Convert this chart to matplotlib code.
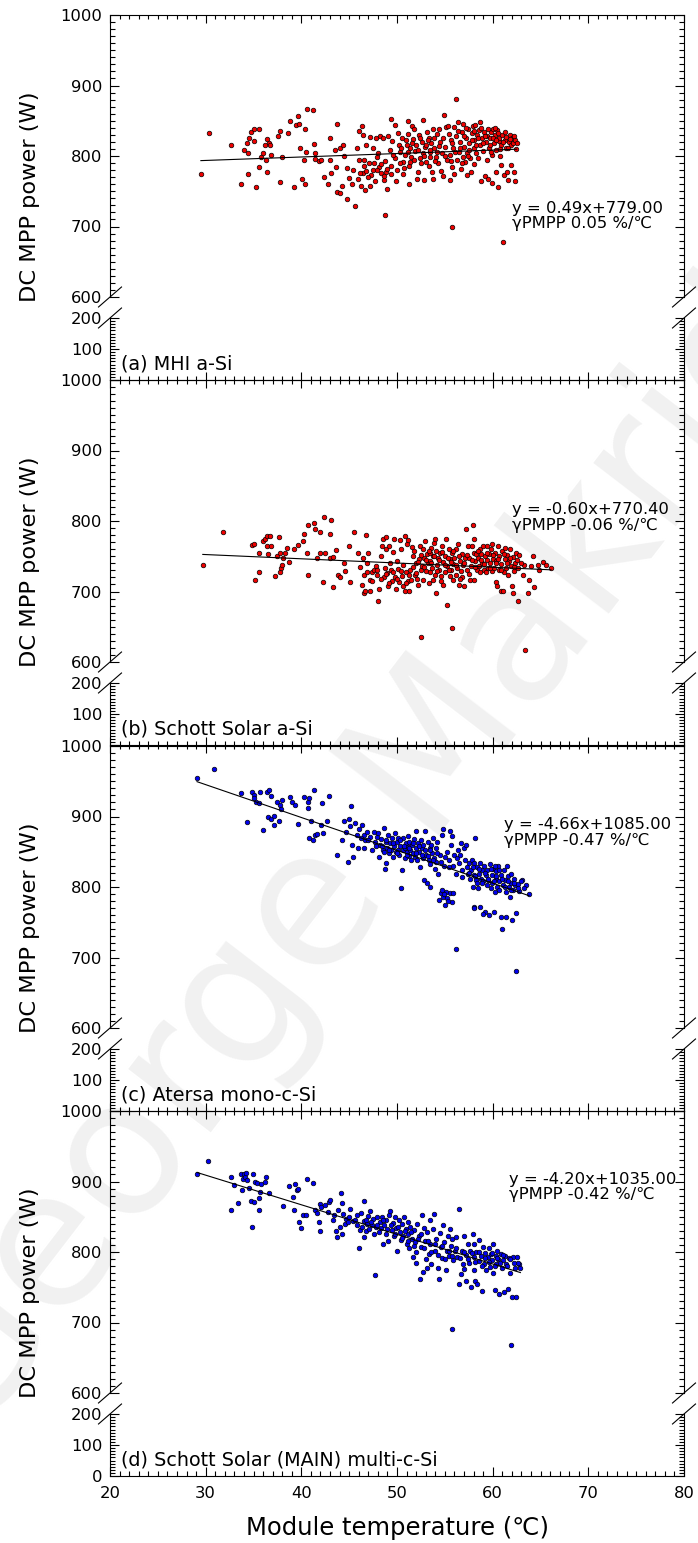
import numpy as np
import matplotlib
matplotlib.use('Agg')
import matplotlib.pyplot as plt
from matplotlib.lines import Line2D
from matplotlib.ticker import MultipleLocator

plt.rcParams['font.family'] = ['DejaVu Sans']

# (a) MHI a-Si
temp_a = [
    29.5, 30.4, 32.7, 33.7, 34.0, 34.3, 34.4, 34.4, 34.5, 34.7,
    35.1, 35.6, 35.0, 35.3, 35.6, 35.8, 36.0, 36.2, 36.4, 36.6,
    36.7, 36.3, 36.4, 36.8, 37.6, 37.8, 37.8, 38.0, 38.6, 38.8,
    39.2, 39.4, 39.6, 39.8, 39.9, 40.1, 40.4, 40.4, 40.6, 41.2,
    40.3, 40.5, 41.3, 41.4, 41.4, 41.8, 42.1, 42.4, 42.8, 43.0,
    43.0, 43.1, 43.6, 43.7, 43.5, 43.7, 44.0, 44.0, 44.4, 44.3,
    44.5, 44.8, 44.8, 45.0, 45.3, 45.4, 45.6, 45.8, 46.0, 46.0,
    46.3, 46.4, 46.4, 46.2, 46.6, 46.7, 46.8, 46.8, 47.1, 47.2,
    47.2, 47.3, 47.5, 47.5, 47.7, 47.8, 47.9, 48.0, 48.1, 48.2,
    48.3, 48.5, 48.7, 48.6, 48.7, 48.9, 49.0, 49.1, 49.3, 49.4,
    49.4, 49.5, 49.8, 49.8, 49.9, 50.0, 50.1, 50.2, 50.3, 50.5,
    50.6, 50.6, 50.8, 51.0, 51.2, 51.2, 51.3, 51.3, 51.4, 51.5,
    51.6, 51.7, 51.8, 51.9, 52.0, 52.1, 52.2, 52.3, 52.4, 52.5,
    52.6, 52.7, 52.7, 52.8, 52.9, 53.0, 53.1, 53.3, 53.4, 53.5,
    53.6, 53.7, 53.8, 53.8, 53.9, 54.1, 54.2, 54.3, 54.4, 54.5,
    54.6, 54.7, 54.8, 54.9, 55.0, 55.1, 55.2, 55.3, 55.5, 55.5,
    55.6, 55.7, 55.8, 55.9, 56.0, 56.0, 56.2, 56.2, 56.3, 56.4,
    56.5, 56.6, 56.7, 56.8, 56.9, 56.9, 57.0, 57.1, 57.2, 57.3,
    57.3, 57.4, 57.5, 57.6, 57.7, 57.8, 57.9, 58.0, 58.1, 58.1,
    58.2, 58.3, 58.4, 58.5, 58.6, 58.7, 58.7, 58.8, 58.9, 59.0,
    59.1, 59.2, 59.3, 59.4, 59.4, 59.5, 59.6, 59.7, 59.8, 59.9,
    59.9, 60.0, 60.1, 60.2, 60.3, 60.4, 60.5, 60.6, 60.7, 60.7,
    60.9, 60.9, 61.0, 61.1, 61.2, 61.3, 61.4, 61.4, 61.5, 61.6,
    61.7, 61.8, 61.9, 62.0, 62.1, 62.4, 62.3, 62.5, 62.2, 62.3,
    61.9,
    50.4, 50.9, 51.1, 51.6, 51.8, 52.2, 52.4, 52.8, 53.0, 53.2,
    53.5, 53.9, 54.0, 54.4, 54.8, 55.0, 55.4, 55.8, 56.1, 56.4,
    56.6, 57.0, 57.2, 57.5, 57.8, 58.0, 58.3, 58.5, 58.8, 59.0,
    59.2, 59.5, 59.7, 60.0, 60.2, 60.4, 60.6, 60.8, 61.1, 61.3,
    61.6, 61.8, 62.2, 47.6, 47.9, 48.3, 48.6, 49.0, 49.4, 46.6,
    47.0, 46.1, 45.9, 49.6, 50.3, 50.7, 51.4, 53.3, 54.2, 55.6,
    56.8, 57.4, 59.8, 60.8]
pmpp_a = [
    774, 832, 816, 760, 809, 819, 804, 775, 826, 834,
    838, 838, 821, 756, 785, 798, 804, 815, 824, 818,
    815, 794, 777, 802, 828, 835, 763, 798, 832, 850,
    756, 844, 857, 845, 812, 768, 760, 838, 867, 865,
    795, 806, 817, 804, 796, 793, 794, 770, 760, 825,
    794, 776, 785, 846, 808, 749, 747, 811, 815, 757,
    800, 783, 739, 769, 760, 780, 729, 812, 794, 835,
    842, 776, 830, 758, 786, 752, 779, 816, 790, 757,
    827, 773, 780, 812, 764, 825, 798, 804, 785, 829,
    776, 825, 717, 766, 793, 778, 753, 829, 808, 786,
    852, 821, 844, 797, 765, 780, 833, 816, 806, 826,
    792, 775, 802, 816, 849, 831, 786, 760, 811, 799,
    842, 824, 838, 807, 816, 768, 778, 830, 797, 790,
    820, 851, 804, 766, 813, 792, 834, 826, 806, 798,
    818, 778, 838, 768, 811, 799, 831, 790, 839, 820,
    779, 804, 772, 858, 813, 841, 794, 843, 801, 766,
    823, 699, 785, 811, 841, 775, 828, 881, 794, 848,
    806, 820, 782, 834, 799, 845, 813, 792, 826, 773,
    804, 839, 818, 797, 778, 832, 842, 811, 788, 823,
    844, 804, 830, 797, 837, 848, 816, 764, 825, 807,
    834, 772, 820, 794, 829, 768, 811, 825, 834, 761,
    801, 839, 818, 830, 809, 778, 837, 756, 821, 826,
    787, 816, 830, 678, 773, 823, 812, 827, 778, 766,
    820, 830, 816, 826, 818, 810, 823, 818, 777, 765,
    787,
    812, 822, 805, 818, 795, 809, 826, 800, 815, 822,
    808, 826, 793, 814, 826, 800, 831, 818, 806, 836,
    812, 828, 840, 808, 822, 836, 815, 826, 840, 818,
    828, 838, 816, 826, 840, 822, 832, 810, 820, 834,
    812, 824, 828, 790, 780, 788, 772, 782, 775, 794,
    770, 776, 768, 801, 790, 783, 791, 786, 805, 793,
    790, 800, 806, 800]

# (b) Schott Solar a-Si
temp_b = [
    29.7, 31.8, 34.8, 35.1, 35.2, 35.6, 35.6, 36.0, 36.2, 36.4,
    36.5, 36.4, 36.7, 36.8, 37.2, 37.5, 37.7, 37.8, 37.8, 37.9,
    38.0, 38.1, 38.3, 38.5, 38.7, 39.2, 39.7, 40.2, 40.3, 40.6,
    40.7, 40.7, 41.3, 41.4, 41.6, 41.9, 42.0, 42.3, 42.4, 42.5,
    43.0, 43.0, 43.1, 43.3, 43.3, 43.6, 43.8, 44.0, 44.5, 44.6,
    45.0, 45.1, 45.5, 45.9, 46.1, 46.3, 46.4, 46.5, 46.6, 46.7,
    46.8, 46.9, 47.0, 47.2, 47.2, 47.4, 47.6, 47.8, 47.9, 48.0,
    48.1, 48.3, 48.4, 48.5, 48.6, 48.7, 48.8, 48.9, 49.0, 49.1,
    49.2, 49.3, 49.4, 49.5, 49.6, 49.7, 49.8, 49.9, 50.0, 50.1,
    50.2, 50.3, 50.4, 50.5, 50.6, 50.6, 50.8, 50.8, 50.9, 51.0,
    51.1, 51.2, 51.3, 51.4, 51.5, 51.6, 51.7, 51.8, 51.9, 52.0,
    52.1, 52.2, 52.3, 52.4, 52.5, 52.6, 52.7, 52.7, 52.8, 52.9,
    53.0, 53.1, 53.2, 53.3, 53.4, 53.4, 53.5, 53.6, 53.7, 53.8,
    53.9, 54.0, 54.0, 54.1, 54.1, 54.2, 54.3, 54.4, 54.5, 54.6,
    54.7, 54.8, 54.8, 55.0, 55.0, 55.1, 55.2, 55.2, 55.4, 55.5,
    55.5, 55.6, 55.7, 55.8, 55.9, 55.9, 56.0, 56.2, 56.2, 56.3,
    56.4, 56.5, 56.6, 56.7, 56.8, 56.8, 56.9, 57.0, 57.1, 57.2,
    57.3, 57.4, 57.5, 57.6, 57.7, 57.8, 57.9, 58.0, 58.1, 58.1,
    58.2, 58.3, 58.4, 58.5, 58.6, 58.7, 58.7, 58.8, 58.9, 59.0,
    59.1, 59.2, 59.3, 59.4, 59.4, 59.5, 59.6, 59.7, 59.8, 59.9,
    59.9, 60.0, 60.1, 60.2, 60.3, 60.4, 60.5, 60.6, 60.7, 60.7,
    60.9, 60.9, 61.0, 61.1, 61.2, 61.3, 61.3, 61.4, 61.5, 61.6,
    61.7, 61.8, 61.9, 62.0, 62.1, 62.1, 62.2, 62.3, 62.4, 62.6,
    62.7, 52.5, 63.4, 65.3, 64.7, 64.2, 64.0, 64.3, 63.8, 63.7,
    63.2, 63.3, 62.8, 64.8, 65.6, 66.1,
    52.2, 52.5, 52.8, 53.0, 53.3, 53.6, 53.9, 54.2, 54.4, 54.7,
    55.0, 55.3, 55.6, 55.9, 56.2, 56.5, 57.0, 57.3, 57.8, 58.2,
    58.5, 58.8, 59.1, 59.4, 59.7, 60.0, 60.3, 60.6, 60.9, 61.2,
    61.5, 61.8, 62.2, 62.5, 63.0, 46.9, 47.4, 47.9, 48.3, 48.8,
    49.2, 49.6, 50.0, 50.4, 50.9, 51.3, 51.7, 52.0, 53.8, 54.6,
    55.4, 56.6, 57.5]
pmpp_b = [
    737, 785, 766, 768, 717, 728, 754, 771, 775, 779,
    753, 765, 779, 764, 722, 750, 777, 755, 728, 734,
    738, 747, 754, 761, 742, 760, 766, 771, 781, 755,
    723, 794, 797, 788, 747, 785, 754, 714, 806, 754,
    781, 748, 801, 749, 707, 759, 724, 721, 741, 729,
    765, 714, 785, 754, 735, 709, 748, 698, 724, 701,
    780, 741, 754, 717, 701, 727, 730, 736, 723, 687,
    703, 751, 764, 775, 721, 734, 760, 778, 726, 708,
    765, 741, 731, 715, 756, 774, 720, 704, 743, 732,
    713, 773, 760, 722, 737, 708, 701, 779, 727, 768,
    715, 773, 701, 731, 717, 763, 751, 757, 724, 740,
    718, 709, 746, 764, 730, 736, 760, 717, 748, 771,
    729, 753, 740, 712, 755, 727, 743, 761, 734, 750,
    769, 724, 774, 698, 757, 738, 748, 731, 754, 715,
    765, 742, 709, 727, 750, 775, 681, 736, 760, 722,
    746, 731, 754, 648, 739, 717, 748, 724, 760, 734,
    768, 709, 743, 729, 753, 721, 737, 708, 748, 788,
    731, 765, 748, 716, 736, 764, 794, 755, 775, 717,
    743, 753, 731, 748, 736, 760, 727, 753, 741, 764,
    731, 750, 727, 745, 765, 734, 753, 740, 760, 729,
    768, 746, 734, 755, 713, 743, 708, 764, 731, 750,
    701, 739, 757, 701, 728, 746, 762, 734, 752, 724,
    743, 760, 736, 708, 749, 698, 729, 741, 755, 734,
    687, 636, 617, 742, 738, 750, 736, 706, 717, 698,
    724, 738, 752, 730, 738, 733,
    742, 752, 735, 745, 758, 740, 751, 729, 744, 756,
    738, 748, 742, 757, 738, 750, 740, 752, 745, 735,
    757, 745, 739, 755, 733, 752, 740, 746, 730, 753,
    740, 748, 735, 745, 740, 727, 715, 730, 718, 725,
    712, 728, 718, 729, 712, 724, 735, 726, 716, 722,
    730, 718, 725]

# (c) Atersa mono-c-Si
temp_c = [
    29.1, 30.9, 33.7, 34.3, 34.8, 35.0, 35.1, 35.3, 35.6, 35.7,
    36.0, 36.4, 36.6, 36.8, 36.5, 36.8, 37.1, 37.1, 37.5, 37.7,
    37.8, 37.9, 38.0, 38.8, 39.0, 39.3, 39.6, 40.3, 40.7, 40.8,
    40.7, 40.8, 41.0, 41.2, 41.3, 41.4, 41.6, 42.1, 42.2, 42.3,
    42.7, 42.9, 43.7, 44.3, 44.5, 44.7, 44.9, 45.0, 45.1, 45.2,
    45.3, 45.4, 45.6, 45.8, 45.9, 46.0, 46.3, 46.5, 46.5, 46.7,
    46.9, 47.2, 47.4, 47.6, 47.7, 47.9, 48.0, 48.1, 48.2, 48.3,
    48.5, 48.6, 48.6, 48.7, 48.8, 48.9, 49.0, 49.1, 49.2, 49.3,
    49.4, 49.5, 49.6, 49.7, 49.8, 49.9, 50.0, 50.1, 50.1, 50.2,
    50.3, 50.4, 50.5, 50.6, 50.6, 50.8, 50.8, 50.9, 51.0, 51.1,
    51.2, 51.3, 51.3, 51.4, 51.5, 51.6, 51.7, 51.8, 51.9, 52.0,
    52.0, 52.1, 52.2, 52.3, 52.4, 52.5, 52.6, 52.7, 52.7, 52.8,
    52.9, 53.0, 53.1, 53.2, 53.3, 53.4, 53.4, 53.5, 53.6, 53.7,
    53.8, 53.9, 54.0, 54.1, 54.1, 54.2, 54.3, 54.4, 54.5, 54.6,
    54.7, 54.8, 54.8, 54.9, 55.0, 55.1, 55.2, 55.2, 55.4, 55.5,
    55.5, 55.6, 55.7, 55.8, 55.9, 55.9, 56.0, 56.2, 56.2, 56.3,
    56.4, 56.5, 56.6, 56.7, 56.8, 56.8, 57.0, 57.1, 57.2, 57.3,
    57.4, 57.5, 57.6, 57.7, 57.8, 57.9, 58.0, 58.1, 58.1, 58.2,
    58.3, 58.4, 58.5, 58.6, 58.7, 58.7, 58.8, 58.9, 59.0, 59.1,
    59.2, 59.3, 59.4, 59.4, 59.5, 59.6, 59.7, 59.8, 59.9, 59.9,
    60.0, 60.1, 60.2, 60.3, 60.4, 60.5, 60.6, 60.7, 60.7, 60.9,
    60.9, 61.0, 61.1, 61.2, 61.3, 61.4, 61.4, 61.5, 61.6, 61.7,
    61.8, 61.9, 61.9, 62.0, 62.1, 62.2, 62.3, 62.4, 63.8, 63.5,
    63.1, 63.3, 62.8, 62.6, 62.4, 63.0,
    48.4, 48.9, 49.2, 49.6, 50.0, 50.3, 50.7, 51.0, 51.3, 51.7,
    52.0, 52.3, 52.6, 52.9, 53.2, 53.5, 53.8, 54.2, 54.6, 55.0,
    55.4, 57.5, 57.9, 58.2, 58.6, 58.9, 59.2, 59.5, 59.8, 60.1,
    60.4, 60.7, 61.0, 61.3, 61.6, 61.9, 62.2, 62.6, 58.4, 60.2,
    54.9, 55.3, 54.7, 58.0, 59.0, 47.0, 47.8, 46.2]
pmpp_c = [
    954, 967, 934, 892, 935, 931, 926, 920, 919, 935,
    881, 935, 937, 929, 899, 896, 901, 888, 921, 893,
    916, 910, 923, 927, 920, 916, 889, 928, 921, 926,
    912, 870, 894, 867, 938, 874, 875, 888, 919, 877,
    894, 929, 845, 867, 893, 878, 835, 897, 887, 915,
    860, 843, 891, 874, 855, 882, 888, 855, 874, 867,
    878, 871, 852, 878, 864, 871, 876, 843, 860, 868,
    852, 850, 883, 826, 864, 834, 856, 874, 848, 862,
    853, 870, 843, 858, 877, 849, 864, 853, 869, 845,
    858, 798, 824, 852, 869, 856, 841, 863, 850, 872,
    857, 844, 864, 852, 838, 860, 848, 868, 843, 880,
    855, 838, 862, 849, 829, 867, 855, 841, 860, 810,
    880, 845, 805, 864, 838, 855, 800, 833, 860, 848,
    869, 841, 826, 855, 836, 864, 819, 782, 845, 791,
    874, 786, 882, 830, 775, 793, 850, 784, 838, 791,
    880, 860, 779, 872, 830, 791, 845, 712, 819, 841,
    852, 834, 845, 862, 824, 814, 855, 838, 860, 829,
    818, 834, 812, 824, 838, 800, 817, 834, 772, 869,
    810, 829, 798, 819, 834, 772, 812, 824, 808, 830,
    765, 817, 803, 824, 810, 760, 833, 798, 817, 805,
    826, 765, 793, 812, 822, 800, 830, 808, 796, 817,
    758, 740, 803, 824, 810, 758, 793, 830, 815, 800,
    786, 819, 806, 753, 796, 812, 803, 681, 790, 803,
    810, 798, 794, 804, 763, 808,
    858, 866, 852, 862, 848, 866, 858, 845, 856, 862,
    848, 858, 846, 853, 844, 852, 838, 848, 836, 842,
    828, 820, 828, 815, 826, 806, 820, 812, 825, 808,
    816, 824, 812, 800, 808, 796, 806, 798, 805, 830,
    790, 780, 796, 770, 762, 866, 858, 870]

# (d) Schott Solar (MAIN) multi-c-Si
temp_d = [
    29.1, 30.2, 32.6, 32.7, 33.0, 33.4, 33.7, 33.8, 33.9, 34.0,
    34.1, 34.2, 34.3, 34.5, 34.7, 34.8, 34.9, 35.0, 35.2, 35.4,
    35.6, 35.6, 35.7, 35.8, 36.2, 36.3, 36.6, 38.1, 38.7, 39.1,
    39.2, 39.3, 39.5, 39.6, 39.8, 40.0, 40.2, 40.5, 40.6, 41.2,
    41.4, 41.6, 41.8, 41.9, 42.0, 42.1, 42.5, 42.8, 42.9, 43.0,
    43.3, 43.4, 43.6, 43.7, 43.8, 44.0, 44.1, 44.2, 44.3, 44.4,
    44.6, 44.7, 44.9, 45.1, 45.4, 45.6, 45.8, 46.0, 46.1, 46.2,
    46.3, 46.5, 46.5, 46.6, 46.8, 46.9, 47.0, 47.1, 47.2, 47.4,
    47.5, 47.6, 47.7, 47.8, 47.9, 48.1, 48.2, 48.3, 48.4, 48.5,
    48.6, 48.8, 48.9, 49.0, 49.1, 49.2, 49.3, 49.5, 49.6, 49.7,
    49.8, 49.9, 50.0, 50.2, 50.3, 50.4, 50.5, 50.6, 50.7, 50.9,
    51.0, 51.1, 51.2, 51.3, 51.4, 51.6, 51.7, 51.8, 51.9, 52.0,
    52.1, 52.3, 52.4, 52.5, 52.6, 52.7, 52.8, 52.9, 53.1, 53.1,
    53.3, 53.4, 53.5, 53.6, 53.8, 53.9, 54.0, 54.1, 54.3, 54.4,
    54.5, 54.6, 54.7, 54.8, 54.9, 55.1, 55.2, 55.3, 55.4, 55.5,
    55.6, 55.8, 55.8, 55.9, 56.1, 56.2, 56.3, 56.5, 56.5, 56.7,
    56.8, 56.9, 57.0, 57.2, 57.2, 57.4, 57.5, 57.6, 57.7, 57.9,
    58.0, 58.1, 58.2, 58.3, 58.4, 58.6, 58.6, 58.8, 58.9, 59.0,
    59.1, 59.2, 59.3, 59.5, 59.6, 59.7, 59.8, 59.9, 60.0, 60.2,
    60.3, 60.4, 60.5, 60.6, 60.7, 60.9, 61.0, 61.1, 61.2, 61.3,
    61.4, 61.6, 61.7, 61.8, 61.9, 62.0, 62.1, 62.3, 62.4, 62.5,
    62.8, 62.9, 62.6,
    49.4, 49.8, 50.1, 50.5, 50.8, 51.1, 51.5, 51.8, 52.2, 52.5,
    52.8, 53.2, 53.6, 54.0, 54.3, 54.7, 55.0, 55.4, 55.8, 56.2,
    56.6, 57.0, 57.4, 57.8, 58.2, 58.6, 58.9, 59.2, 59.6, 59.9,
    60.2, 60.5, 60.8, 61.1, 61.5, 61.8, 62.2, 46.8, 47.3, 47.9,
    48.5, 45.0, 45.8, 52.0, 53.0, 57.0, 58.0, 60.0]
pmpp_d = [
    910, 929, 860, 907, 895, 869, 910, 888, 903, 911,
    907, 912, 902, 891, 872, 836, 910, 871, 900, 898,
    877, 860, 885, 897, 900, 906, 883, 865, 893, 878,
    860, 896, 888, 890, 842, 834, 853, 853, 903, 898,
    859, 855, 842, 868, 830, 864, 866, 857, 871, 874,
    845, 852, 830, 821, 859, 836, 883, 869, 826, 854,
    840, 847, 842, 861, 844, 846, 852, 805, 831, 855,
    836, 821, 844, 872, 830, 840, 851, 833, 858, 838,
    847, 826, 767, 836, 850, 828, 842, 834, 849, 812,
    838, 826, 845, 833, 816, 852, 858, 831, 841, 823,
    850, 834, 802, 845, 828, 817, 840, 823, 849, 833,
    812, 842, 826, 806, 836, 819, 793, 831, 814, 784,
    840, 823, 762, 807, 852, 771, 834, 816, 778, 828,
    797, 845, 812, 783, 833, 854, 802, 819, 778, 762,
    827, 807, 792, 838, 814, 774, 802, 823, 794, 832,
    809, 818, 691, 788, 802, 821, 793, 861, 755, 769,
    802, 783, 823, 796, 759, 812, 785, 802, 750, 826,
    793, 812, 759, 800, 755, 787, 817, 795, 745, 807,
    783, 798, 774, 793, 805, 779, 797, 788, 812, 746,
    795, 783, 802, 790, 740, 797, 778, 788, 743, 795,
    783, 748, 792, 770, 668, 736, 793, 778, 736, 793,
    783, 778, 785,
    838, 826, 835, 820, 830, 815, 828, 808, 818, 826,
    805, 815, 800, 812, 796, 808, 790, 802, 795, 806,
    792, 800, 790, 798, 786, 800, 780, 792, 786, 798,
    780, 792, 785, 796, 780, 790, 784, 845, 842, 838,
    845, 850, 838, 800, 790, 776, 775, 770]

labels = ['(a) MHI a-Si', '(b) Schott Solar a-Si', '(c) Atersa mono-c-Si',
          '(d) Schott Solar (MAIN) multi-c-Si']
slopes = [0.49, -0.60, -4.66, -4.20]
intercepts = [779.00, 770.40, 1085.00, 1035.00]
gammas = ['0.05', '-0.06', '-0.47', '-0.42']
colors = ['#ee0000', '#ee0000', '#0000ee', '#0000ee']
temps = [temp_a, temp_b, temp_c, temp_d]
powers = [pmpp_a, pmpp_b, pmpp_c, pmpp_d]
eq_pos = [(62.0, 715), (62.0, 805), (61.2, 877), (61.7, 892)]

W, H = 698, 1543
fig = plt.figure(figsize=(W / 100, H / 100), dpi=100)


def fx(px):
    return px / W


def fy(py):
    return 1 - py / H


LEFT, RIGHT = 110, 684
UP_H, GAP, LO_H = 282, 21, 62
tops = [15, 380, 746, 1111]

# watermark
fig.text(fx(418), fy(776), 'George Makrides', rotation=52.5, fontsize=137,
         color='#f1f1f1', ha='center', va='center', zorder=-1,
         rotation_mode='anchor')

for i, top in enumerate(tops):
    ax_up = fig.add_axes([fx(LEFT), fy(top + UP_H), fx(RIGHT) - fx(LEFT), UP_H / H])
    ax_lo = fig.add_axes([fx(LEFT), fy(top + UP_H + GAP + LO_H), fx(RIGHT) - fx(LEFT), LO_H / H])
    for ax in (ax_up, ax_lo):
        ax.set_facecolor('none')
        ax.set_xlim(20, 80)
        ax.xaxis.set_major_locator(MultipleLocator(10))
        ax.xaxis.set_minor_locator(MultipleLocator(1))
        ax.yaxis.set_major_locator(MultipleLocator(100))
        ax.yaxis.set_minor_locator(MultipleLocator(10))
        ax.tick_params(axis='y', which='both', direction='in', left=True, right=True,
                       labelsize=11.8, pad=5.5, width=0.8)
        ax.tick_params(axis='y', which='major', length=6.5)
        ax.tick_params(axis='y', which='minor', length=3.4)
        for s in ax.spines.values():
            s.set_linewidth(0.8)

    ax_up.set_ylim(600, 1000)
    ax_up.spines['bottom'].set_visible(False)
    ax_up.tick_params(axis='x', which='both', bottom=False, top=(i == 0),
                      labelbottom=False, direction='in', width=0.8)
    ax_up.tick_params(axis='x', which='major', length=6)
    ax_up.tick_params(axis='x', which='minor', length=3)

    ax_lo.set_ylim(0, 200)
    ax_lo.spines['top'].set_visible(False)
    ax_lo.set_yticks([0, 100, 200])
    if i < 3:
        ax_lo.set_yticklabels(['', '100', '200'])
        ax_lo.tick_params(axis='x', which='both', top=False, bottom=True,
                          labelbottom=False, direction='inout', width=0.8)
        ax_lo.tick_params(axis='x', which='major', length=11.3)
        ax_lo.tick_params(axis='x', which='minor', length=5.8)
    else:
        ax_lo.tick_params(axis='x', which='both', top=False, bottom=True,
                          direction='in', labelsize=11.8, pad=7.5, width=0.8)
        ax_lo.tick_params(axis='x', which='major', length=6.5)
        ax_lo.tick_params(axis='x', which='minor', length=3.6)

    x = np.array(temps[i])
    y = np.array(powers[i])
    ax_up.scatter(x, y, s=11, c=colors[i], edgecolors='k', linewidths=0.5, zorder=3)
    xs = np.array([x.min(), x.max()])
    ax_up.plot(xs, slopes[i] * xs + intercepts[i], color='k', lw=0.8, zorder=4)

    eq = 'y = %.2fx+%.2f\nγPMPP %s %%/℃' % (slopes[i], intercepts[i], gammas[i])
    ax_up.text(eq_pos[i][0], eq_pos[i][1], eq, fontsize=11.8, va='center',
               ha='left', linespacing=1.05, zorder=5)
    ax_lo.text(21.2, 52, labels[i], fontsize=13.8, va='center', ha='left')

    # break marks
    for xb in (LEFT, RIGHT):
        for yb in (top + UP_H, top + UP_H + GAP):
            fig.add_artist(Line2D([fx(xb - 11.5), fx(xb + 11.5)],
                                  [fy(yb + 10), fy(yb - 10)], color='k', lw=0.8))

    fig.text(fx(30), fy(top + 182), 'DC MPP power (W)', rotation=90,
             ha='center', va='center', fontsize=16.2)

fig.text(fx(397), fy(1528), 'Module temperature (℃)', ha='center', va='center',
         fontsize=17.5)

fig.savefig('out.png', dpi=100)
